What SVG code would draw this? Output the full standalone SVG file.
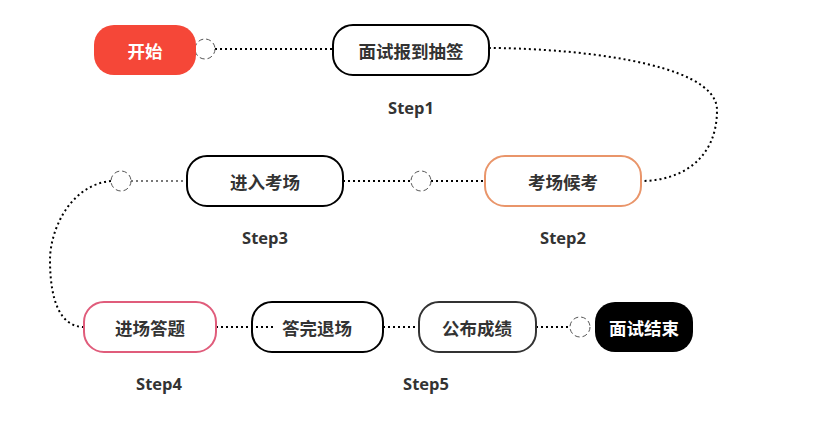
<svg xmlns="http://www.w3.org/2000/svg" width="837" height="427" viewBox="0 0 837 427">
<style>
.n{fill:#fff;stroke-width:2}
.t{font-family:"Noto Sans CJK SC","Noto Sans",sans-serif;font-size:17.5px;font-weight:bold;fill:#333;text-anchor:middle;dominant-baseline:central}
.w{fill:#fff}
.s{font-family:"Open Sans","Noto Sans",sans-serif;font-size:16.5px;font-weight:bold;fill:#333;text-anchor:middle;dominant-baseline:central}
.c{fill:none;stroke:#000;stroke-width:2;stroke-dasharray:2 3}
.g{fill:none;stroke:#777;stroke-width:2;stroke-dasharray:2 3}
.o{fill:#fff;stroke:#555;stroke-width:1;stroke-dasharray:5 3}
</style>
<g id="connectors">
<path class="c" d="M215,49 H333"/>
<path class="c" d="M489,48 C560,48 717,60 717,110 C717,160 680,181 641,181"/>
<path class="c" d="M431,181 H485"/>
<path class="c" d="M343,181 H411"/>
<path class="g" d="M131,181 H187"/>
<path class="c" d="M111,181 C70,185 50,230 50,260 C50,300 60,327 84,327"/>
<path class="c" d="M216,327 H276"/>
<path class="c" d="M383,327 H419"/>
<path class="c" d="M536,327 H570"/>
<circle class="o" cx="205" cy="49" r="10"/>
<circle class="o" cx="421" cy="181" r="10"/>
<circle class="o" cx="121" cy="181" r="10"/>
<circle class="o" cx="580" cy="327" r="10"/>
</g>
<g id="start"><rect x="94" y="25" width="102" height="50" rx="20" fill="#F54738"/><text class="t w" x="145" y="50">开始</text></g>
<g id="n1"><rect class="n" x="333" y="25" width="156" height="50" rx="20" stroke="#000"/><text class="t" x="411" y="50">面试报到抽签</text></g>
<g id="n2"><rect class="n" x="485" y="156" width="156" height="50" rx="20" stroke="#E9956A"/><text class="t" x="563" y="181">考场候考</text></g>
<g id="n3"><rect class="n" x="187" y="156" width="156" height="50" rx="20" stroke="#000"/><text class="t" x="265" y="181">进入考场</text></g>
<g id="n4"><rect class="n" x="84" y="302" width="132" height="50" rx="20" stroke="#E05C7B"/><text class="t" x="150" y="327">进场答题</text></g>
<g id="n5"><rect class="n" x="252" y="302" width="131" height="50" rx="20" stroke="#000" style="fill:none"/><text class="t" x="317" y="327">答完退场</text></g>
<g id="n6"><rect class="n" x="419" y="302" width="117" height="50" rx="20" stroke="#333"/><text class="t" x="477" y="327">公布成绩</text></g>
<g id="end"><rect x="595" y="302" width="98" height="50" rx="20" fill="#000"/><text class="t w" x="644" y="327">面试结束</text></g>
<g id="labels">
<text class="s" x="411" y="107">Step1</text>
<text class="s" x="563" y="237">Step2</text>
<text class="s" x="265" y="237">Step3</text>
<text class="s" x="159" y="383">Step4</text>
<text class="s" x="426" y="383">Step5</text>
</g>
</svg>
